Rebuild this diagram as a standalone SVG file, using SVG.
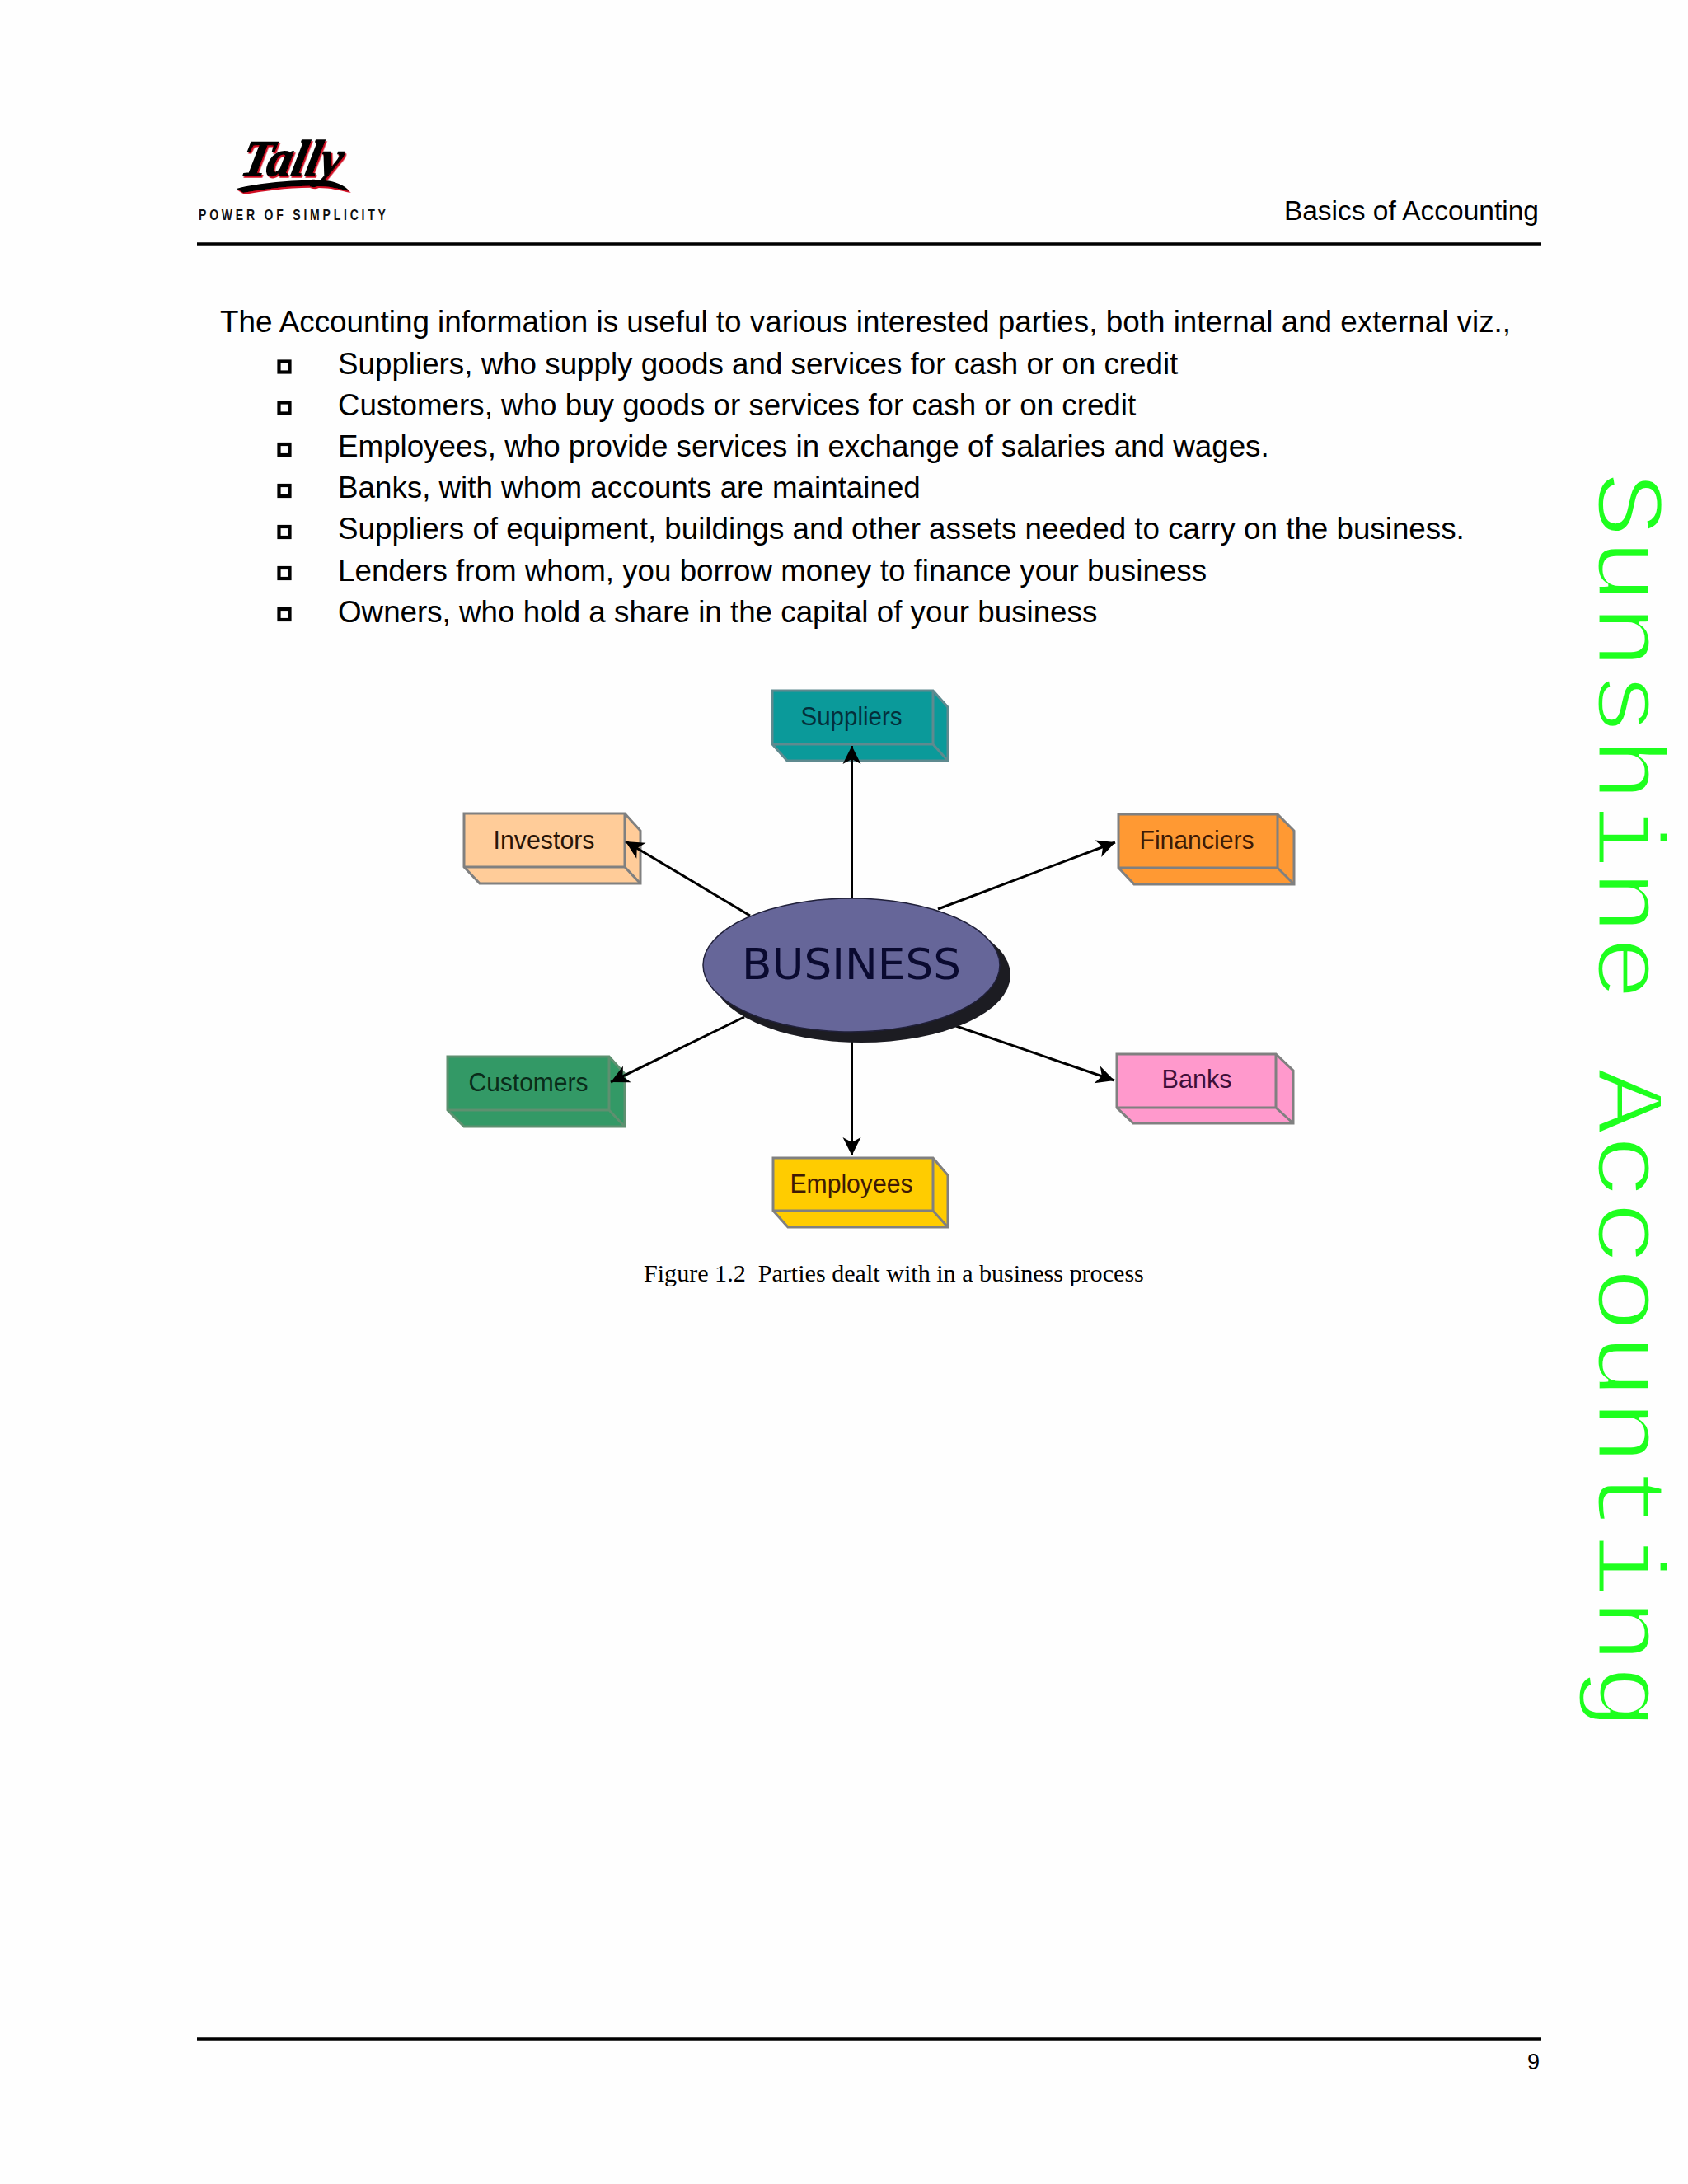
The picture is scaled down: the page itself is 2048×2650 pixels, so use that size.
<svg xmlns="http://www.w3.org/2000/svg" width="2048" height="2650" viewBox="0 0 2048 2650">
<style>
.body{font-family:"Liberation Sans",Arial,sans-serif;font-size:36.75px;fill:#000}
.bul{fill:none;stroke:#000;stroke-width:4.2}
.rule{stroke:#000;stroke-width:3.5}
.box{stroke:#808080;stroke-width:3;stroke-linejoin:miter}
.edge{stroke:#808080;stroke-width:3;fill:none}
.lbl{font-family:"Liberation Sans",Arial,sans-serif;font-size:31px;text-anchor:middle}
.conn{stroke:#000;stroke-width:3;fill:none;marker-end:url(#ah)}
</style>
<defs>
<marker id="ah" markerUnits="userSpaceOnUse" markerWidth="26" markerHeight="26" refX="23" refY="13" orient="auto"><path d="M23 13 L1 2 L7 13 L1 24 Z" fill="#000"/></marker>
<filter id="redshadow" x="-10%" y="-10%" width="120%" height="120%"><feDropShadow dx="1.5" dy="2" stdDeviation="0.4" flood-color="#d01020"/></filter>
</defs>
<rect width="2048" height="2650" fill="#fefefe"/>
<g id="logo" filter="url(#redshadow)">
<text transform="translate(290 213) skewX(-12)" font-family="Liberation Serif,serif" font-size="62" font-weight="bold" font-style="italic" fill="#000" textLength="122" lengthAdjust="spacingAndGlyphs" stroke="#000" stroke-width="1.5">Tally</text>
<path d="M287 229 C320 220 370 218 395 219 C405 220 418 224 424 232 C410 229 400 226 385 226 C350 225 320 230 295 234 Z" fill="#000"/>
</g>
<text id="tagline" transform="translate(241 267) scale(0.78 1)" font-family="Liberation Sans,sans-serif" font-size="18" font-weight="bold" fill="#111" textLength="291">POWER OF SIMPLICITY</text>
<text id="section" class="body" x="1867" y="267" text-anchor="end" style="font-size:33.5px">Basics of Accounting</text>
<line class="rule" x1="239" y1="296" x2="1870" y2="296"/>
<g id="content">
<text class="body" x="267" y="403" style="font-size:36.85px">The Accounting information is useful to various interested parties, both internal and external viz.,</text>
<g id="b1"><rect class="bul" x="338.5" y="438.5" width="13" height="13"/><text class="body" x="410" y="453.5">Suppliers, who supply goods and services for cash or on credit</text></g>
<g id="b2"><rect class="bul" x="338.5" y="488.5" width="13" height="13"/><text class="body" x="410" y="503.5">Customers, who buy goods or services for cash or on credit</text></g>
<g id="b3"><rect class="bul" x="338.5" y="539" width="13" height="13"/><text class="body" x="410" y="554">Employees, who provide services in exchange of salaries and wages.</text></g>
<g id="b4"><rect class="bul" x="338.5" y="589" width="13" height="13"/><text class="body" x="410" y="604">Banks, with whom accounts are maintained</text></g>
<g id="b5"><rect class="bul" x="338.5" y="639" width="13" height="13"/><text class="body" x="410" y="654">Suppliers of equipment, buildings and other assets needed to carry on the business.</text></g>
<g id="b6"><rect class="bul" x="338.5" y="689" width="13" height="13"/><text class="body" x="410" y="704.5">Lenders from whom, you borrow money to finance your business</text></g>
<g id="b7"><rect class="bul" x="338.5" y="739" width="13" height="13"/><text class="body" x="410" y="754.5">Owners, who hold a share in the capital of your business</text></g>
</g>
<g id="node-suppliers">
<path class="box" fill="#0b9a9a" style="stroke:#5f8a8f" d="M937 838 H1132 L1150 858 V923 H955 L937 903 Z"/>
<path class="edge" style="stroke:#5f8a8f" d="M937 903 H1132 V838 M1132 903 L1150 923"/>
<text class="lbl" x="1033" y="880" fill="#042f3a" textLength="123" lengthAdjust="spacingAndGlyphs">Suppliers</text></g>
<g id="node-investors">
<path class="box" fill="#ffcc99" d="M563 987 H758 L777 1008 V1072 H582 L563 1052 Z"/>
<path class="edge" d="M563 1052 H758 V987 M758 1052 L777 1072"/>
<text class="lbl" x="660" y="1030" fill="#2a1508" textLength="123" lengthAdjust="spacingAndGlyphs">Investors</text></g>
<g id="node-customers">
<path class="box" fill="#339966" style="stroke:#5f9070" d="M543 1282 H739 L758 1303 V1367 H563 L543 1347 Z"/>
<path class="edge" style="stroke:#5f9070" d="M543 1347 H739 V1282 M739 1347 L758 1367"/>
<text class="lbl" x="641" y="1324" fill="#0a2c1a" textLength="145" lengthAdjust="spacingAndGlyphs">Customers</text></g>
<g id="node-employees">
<path class="box" fill="#ffcc00" d="M938 1405 H1132 L1150 1426 V1489 H956 L938 1469 Z"/>
<path class="edge" d="M938 1469 H1132 V1405 M1132 1469 L1150 1489"/>
<text class="lbl" x="1033" y="1447" fill="#3f1a05" textLength="149" lengthAdjust="spacingAndGlyphs">Employees</text></g>
<g id="node-financiers">
<path class="box" fill="#ff9933" d="M1357 988 H1550 L1570 1008 V1073 H1376 L1357 1053 Z"/>
<path class="edge" d="M1357 1053 H1550 V988 M1550 1053 L1570 1073"/>
<text class="lbl" x="1452" y="1030" fill="#3f1a05" textLength="139" lengthAdjust="spacingAndGlyphs">Financiers</text></g>
<g id="node-banks">
<path class="box" fill="#ff99cc" d="M1355 1279 H1548 L1569 1299 V1363 H1375 L1355 1344 Z"/>
<path class="edge" d="M1355 1344 H1548 V1279 M1548 1344 L1569 1363"/>
<text class="lbl" x="1452" y="1320" fill="#3f0f38" textLength="85" lengthAdjust="spacingAndGlyphs">Banks</text></g>
<g id="connectors">
<line class="conn" x1="1033.5" y1="1092" x2="1033.5" y2="905"/>
<line class="conn" x1="910" y1="1111" x2="759" y2="1021"/>
<line class="conn" x1="1138" y1="1103" x2="1353" y2="1022"/>
<line class="conn" x1="903" y1="1234" x2="741" y2="1313"/>
<line class="conn" x1="1160" y1="1245" x2="1352" y2="1311"/>
<line class="conn" x1="1033.5" y1="1255" x2="1033.5" y2="1402"/>
</g>
<g id="node-business">
<ellipse cx="1045" cy="1183" rx="181" ry="82" fill="#1c1c22"/>
<ellipse cx="1033" cy="1171" rx="180" ry="81" fill="#666699" stroke="#20203a" stroke-width="1.5"/>
<text x="1033" y="1188" font-family="DejaVu Sans,sans-serif" font-size="52" fill="#0a0a30" text-anchor="middle" textLength="266" lengthAdjust="spacingAndGlyphs">BUSINESS</text>
</g>
<text id="caption" x="781" y="1555" font-family="Liberation Serif,serif" font-size="30.1" fill="#000" xml:space="preserve">Figure 1.2  Parties dealt with in a business process</text>
<line class="rule" x1="239" y1="2474" x2="1870" y2="2474"/>
<text id="page" x="1868" y="2511" font-family="Liberation Sans,sans-serif" font-size="27" text-anchor="end" fill="#000">9</text>
<text id="watermark" transform="translate(1939 572) rotate(90) scale(1 0.87)" font-family="Liberation Mono,monospace" font-size="134" fill="#1eff1e" stroke="#fefefe" stroke-width="3.5">Sunshine Accounting</text>
</svg>
